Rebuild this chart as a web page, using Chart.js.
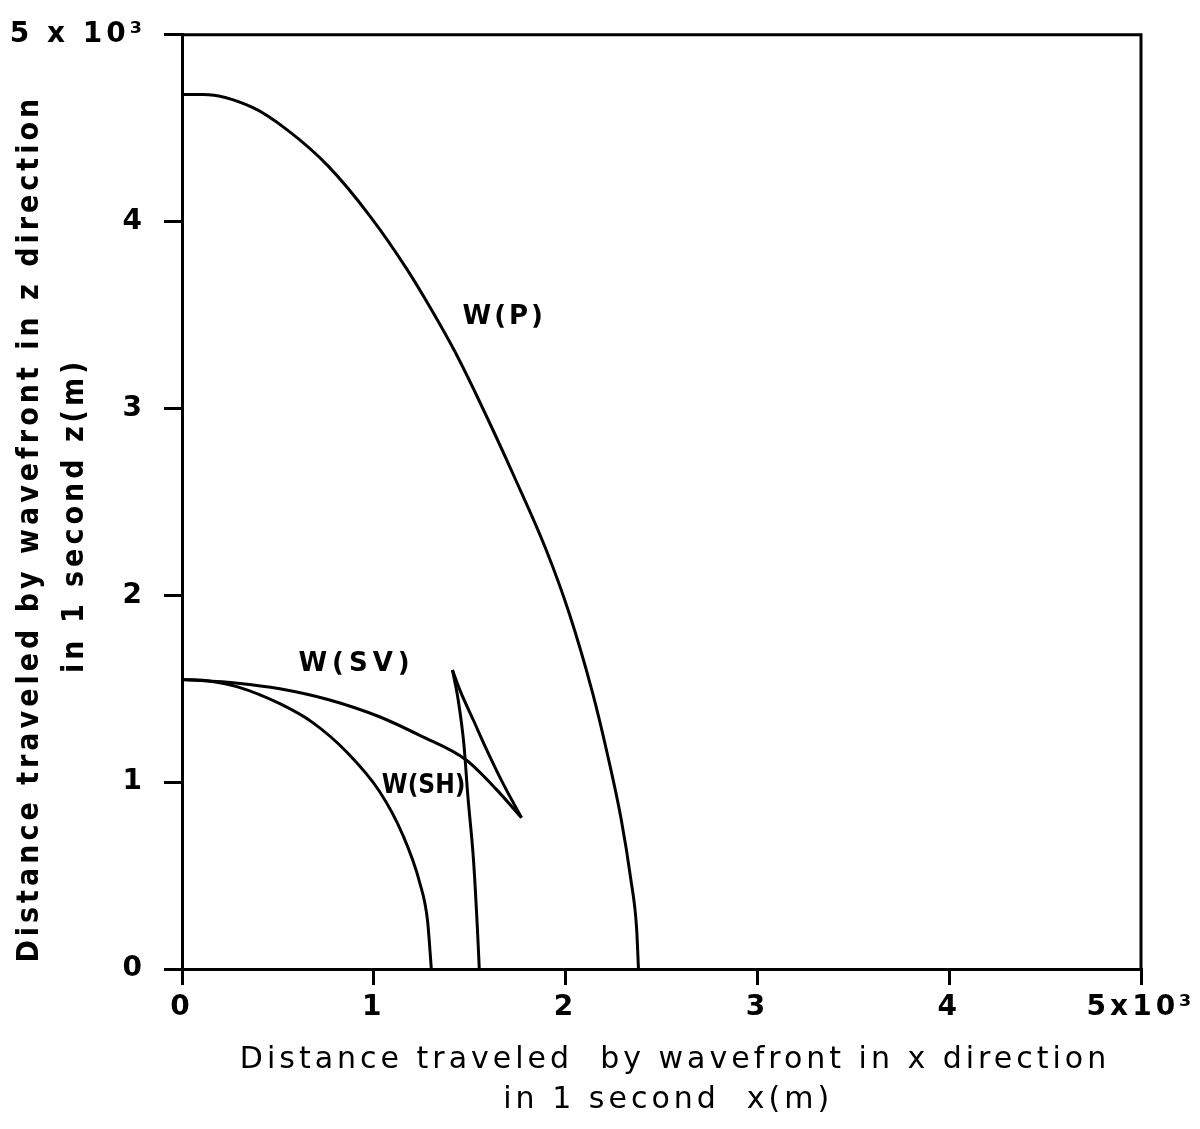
<!DOCTYPE html>
<html lang="en">
<head>
    <meta charset="UTF-8">
    <title>Wavefront distances</title>
    <script src="https://cdn.jsdelivr.net/npm/chart.js"></script>
    <style>
        body { margin: 0; background: #fff; }
        #wrap { width: 1200px; height: 1129px; }
    </style>
</head>
<body>
<div id="wrap"><canvas id="wavefront"></canvas></div>
<script>
    // distances in units of 10^3 m
    const pX = [0, 0.11, 0.37, 0.55, 0.76, 0.98, 1.17, 1.30, 1.42, 1.55, 1.73, 1.90, 2.02, 2.14, 2.22, 2.29, 2.34, 2.37, 2.38];
    const pZ = [4.68, 4.68, 4.61, 4.49, 4.30, 4.03, 3.75, 3.53, 3.31, 3.04, 2.64, 2.24, 1.90, 1.48, 1.14, 0.80, 0.48, 0.22, 0];

    const shX = [0, 0.15, 0.29, 0.51, 0.68, 0.86, 1.03, 1.15, 1.24, 1.28, 1.30];
    const shZ = [1.55, 1.54, 1.51, 1.42, 1.32, 1.16, 0.95, 0.72, 0.46, 0.26, 0];

    // W(SV) has a triplication: outer branch, back branch, inner branch
    const svOuterX = [0, 0.29, 0.51, 0.77, 1.03, 1.24, 1.48, 1.64, 1.77];
    const svOuterZ = [1.55, 1.53, 1.50, 1.44, 1.35, 1.25, 1.12, 0.96, 0.81];
    const svBackX = [1.77, 1.67, 1.59, 1.52, 1.45, 1.41];
    const svBackZ = [0.81, 1.00, 1.17, 1.33, 1.49, 1.60];
    const svInnerX = [1.41, 1.44, 1.47, 1.49, 1.52, 1.54, 1.55];
    const svInnerZ = [1.60, 1.44, 1.20, 0.93, 0.58, 0.22, 0];

    const xTicks = ['0', '1', '2', '3', '4', '5x10³'];
    const zTicks = ['0', '1', '2', '3', '4', '5 x 10³'];

    const curveLabels = [
        { text: 'W(P)', x: 1.68, z: 3.49, spacing: '3px', family: 'DejaVu Sans' },
        { text: 'W(SV)', x: 0.91, z: 1.63, spacing: '5px', family: 'DejaVu Sans' },
        { text: 'W(SH)', x: 1.26, z: 0.98, spacing: '0px', family: 'DejaVu Sans Condensed' }
    ];

    const pts = (xs, zs) => xs.map((x, i) => ({ x: x, y: zs[i] }));
    const line = (data) => ({
        data: data,
        showLine: true,
        borderColor: '#000',
        borderWidth: 3,
        pointRadius: 0,
        cubicInterpolationMode: 'monotone',
        fill: false
    });

    const labelPlugin = {
        id: 'labels',
        beforeDraw(chart) {
            chart.ctx.letterSpacing = '4px';
        },
        beforeDatasetsDraw(chart) {
            chart.ctx.letterSpacing = '0px';
        },
        afterDatasetsDraw(chart) {
            const { ctx, scales: { x, y } } = chart;
            const a = chart.chartArea;
            ctx.save();
            ctx.strokeStyle = '#000';
            ctx.lineWidth = 3;
            ctx.beginPath();
            ctx.moveTo(a.left, a.top);
            ctx.lineTo(a.right, a.top);
            ctx.lineTo(a.right, a.bottom);
            ctx.stroke();
            ctx.fillStyle = '#000';
            ctx.textAlign = 'center';
            ctx.textBaseline = 'middle';
            curveLabels.forEach(l => {
                ctx.font = 'bold 26px "' + l.family + '"';
                ctx.letterSpacing = l.spacing;
                ctx.fillText(l.text, x.getPixelForValue(l.x), y.getPixelForValue(l.z));
            });
            ctx.restore();
        }
    };

    new Chart(document.getElementById('wavefront'), {
        type: 'scatter',
        data: {
            datasets: [
                line(pts(pX, pZ)),
                line(pts(shX, shZ)),
                line(pts(svOuterX, svOuterZ)),
                line(pts(svBackX, svBackZ)),
                line(pts(svInnerX, svInnerZ))
            ]
        },
        options: {
            responsive: true,
            maintainAspectRatio: false,
            animation: false,
            layout: { padding: { top: 24, right: 59, left: 0, bottom: 0 } },
            plugins: { legend: { display: false }, tooltip: { enabled: false } },
            scales: {
                x: {
                    type: 'linear',
                    min: 0,
                    max: 5,
                    afterFit: s => { s.height = 160; },
                    ticks: {
                        stepSize: 1,
                        color: '#000',
                        padding: 6,
                        maxRotation: 0,
                        font: { family: 'DejaVu Sans', size: 28, weight: 'bold' },
                        callback: (v) => xTicks[v]
                    },
                    grid: { drawOnChartArea: false, drawTicks: true, tickLength: 16, color: '#000', lineWidth: 3 },
                    border: { color: '#000', width: 3 },
                    title: {
                        display: true,
                        text: ['  Distance traveled  by wavefront in x direction', ' in 1 second  x(m)'],
                        color: '#000',
                        font: { family: 'DejaVu Sans', size: 30, lineHeight: 1.33 },
                        padding: { top: 0, bottom: 9 }
                    }
                },
                y: {
                    type: 'linear',
                    min: 0,
                    max: 5,
                    afterFit: s => { s.width = 182; },
                    ticks: {
                        stepSize: 1,
                        color: '#000',
                        padding: 18,
                        font: { family: 'DejaVu Sans', size: 28, weight: 'bold' },
                        callback: (v) => zTicks[v]
                    },
                    grid: { drawOnChartArea: false, drawTicks: true, tickLength: 18, color: '#000', lineWidth: 3 },
                    border: { color: '#000', width: 3 },
                    title: {
                        display: true,
                        text: ['Distance traveled by wavefront in z direction    ', 'in 1 second z(m)  '],
                        color: '#000',
                        font: { family: 'DejaVu Sans Condensed', size: 30, weight: 'bold', lineHeight: 1.5 },
                        padding: { top: 8, bottom: 0 }
                    }
                }
            }
        },
        plugins: [labelPlugin]
    });
</script>
</body>
</html>
